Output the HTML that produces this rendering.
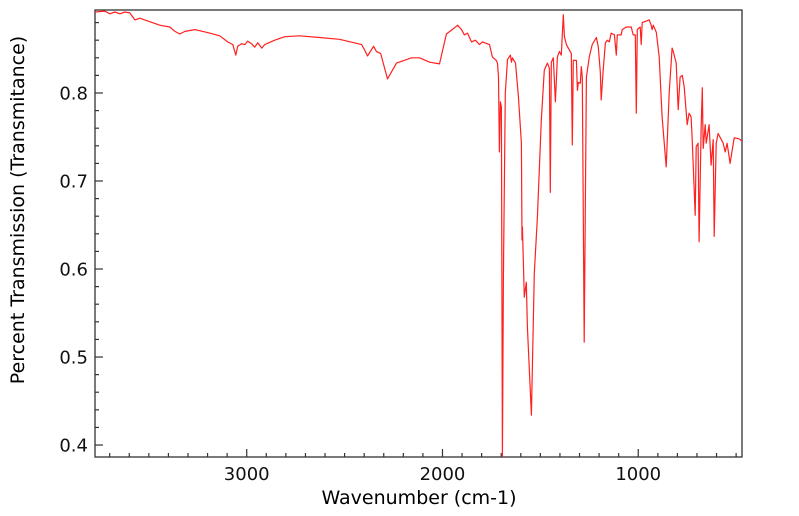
<!DOCTYPE html>
<html><head><meta charset="utf-8"><style>
html,body{margin:0;padding:0;background:#fff;width:799px;height:516px;overflow:hidden}
text{font-family:"DejaVu Sans","Liberation Sans",sans-serif}
</style></head><body>
<svg id="chart" width="799" height="516" xmlns="http://www.w3.org/2000/svg">
<g id="axes"></g>
<g id="plot"></g>
<text x="419" y="504" font-size="19" text-anchor="middle">Wavenumber (cm-1)</text>
<text transform="translate(24,210) rotate(-90)" font-size="19" text-anchor="middle">Percent Transmission (Transmitance)</text>
</svg>
<script>
const wavenumbers=[3775,3725,3699,3673,3648,3622,3597,3571,3546,3495,3444,3393,3367,3342,3316,3265,3189,3138,3097,3071,3056,3046,3026,3010,2995,2975,2959,2944,2923,2908,2857,2806,2730,2628,2526,2413,2398,2383,2352,2337,2316,2281,2235,2158,2117,2066,2015,1980,1939,1923,1903,1888,1872,1852,1832,1811,1796,1760,1745,1725,1719,1714,1709,1704,1699,1694,1689,1679,1668,1653,1648,1643,1627,1612,1597,1594,1592,1582,1572,1566,1546,1531,1515,1495,1480,1464,1454,1449,1444,1434,1423,1413,1403,1393,1383,1377,1367,1352,1342,1337,1332,1316,1311,1306,1296,1291,1286,1276,1265,1250,1235,1214,1204,1194,1189,1179,1168,1158,1148,1138,1122,1112,1107,1087,1082,1061,1036,1026,1015,1010,1005,990,985,980,944,934,929,923,908,893,878,857,842,827,821,806,796,786,775,765,750,740,730,725,709,704,694,689,679,673,668,658,653,638,628,617,612,602,592,566,556,546,531,510,485,469];
const transmittance=[.892,.893,.890,.892,.890,.892,.891,.883,.885,.881,.877,.875,.870,.867,.870,.872,.868,.865,.858,.855,.843,.853,.856,.855,.859,.856,.852,.857,.851,.855,.860,.864,.865,.863,.861,.855,.849,.842,.853,.847,.845,.816,.834,.840,.840,.835,.833,.867,.874,.877,.872,.866,.868,.858,.860,.855,.858,.855,.841,.837,.834,.818,.733,.790,.784,.385,.591,.800,.838,.843,.835,.840,.834,.796,.743,.633,.648,.568,.585,.534,.434,.595,.659,.769,.826,.834,.828,.687,.835,.840,.790,.841,.847,.843,.889,.864,.855,.849,.845,.741,.837,.837,.803,.812,.811,.830,.818,.517,.818,.841,.855,.863,.852,.824,.792,.826,.857,.860,.858,.868,.866,.843,.866,.866,.872,.875,.875,.866,.866,.777,.872,.875,.855,.880,.883,.877,.872,.877,.869,.841,.773,.716,.800,.851,.847,.834,.781,.818,.820,.807,.764,.777,.773,.750,.661,.739,.743,.631,.758,.806,.737,.764,.743,.764,.718,.747,.637,.743,.754,.743,.733,.743,.720,.749,.748,.745];
const xTickLabels=[3000,2000,1000];
const yTickLabels=[0.4,0.5,0.6,0.7,0.8];
const X0=95,X1=742,Y0=10,Y1=457;
const WMAX=3775,WMIN=470,TMAX=0.8943,TMIN=0.3864;
function xs(w){return X0+(WMAX-w)/(WMAX-WMIN)*(X1-X0);}
function ys(t){return Y1-(t-TMIN)/(TMAX-TMIN)*(Y1-Y0);}
const NS="http://www.w3.org/2000/svg";
const axes=document.getElementById('axes'),plot=document.getElementById('plot');
function mk(tag,attrs,parent){const e=document.createElementNS(NS,tag);for(const k in attrs)e.setAttribute(k,attrs[k]);parent.appendChild(e);return e;}
const frame=mk('rect',{x:X0,y:Y0,width:X1-X0,height:Y1-Y0,fill:'none',stroke:'#333','stroke-width':1.3},axes);


for(let w=3700;w>=500;w-=100){const x=xs(w);const major=w%1000===0;
 const t=mk('line',{x1:x,x2:x,y1:Y1,y2:Y1-(major?8:4),stroke:'#333','stroke-width':1.2},axes);
 
 }
for(let i=0;i<=25;i++){const v=0.4+i*0.02;if(v>TMAX)break;const y=ys(v);const major=i%5===0;
 const t=mk('line',{x1:X0,x2:X0+(major?8:4),y1:y,y2:y,stroke:'#333','stroke-width':1.2},axes);
 
 }
xTickLabels.forEach(v=>{const t=mk('text',{x:xs(v),y:480,'font-size':18,'text-anchor':'middle',fill:'#111'},axes);t.textContent=String(v);
 
 });
yTickLabels.forEach(v=>{const t=mk('text',{x:88,y:ys(v)+6.5,'font-size':18,'text-anchor':'end',fill:'#111'},axes);t.textContent=v.toFixed(1);
 
 });
const cp=mk('clipPath',{id:'clip'},plot);mk('rect',{x:X0,y:Y0,width:X1-X0,height:Y1-Y0},cp);
let d='';wavenumbers.forEach((w,i)=>{d+=(i?'L':'M')+xs(w).toFixed(1)+' '+ys(transmittance[i]).toFixed(1);});
const line=mk('path',{d:d,fill:'none',stroke:'#ff2020','stroke-width':1.2,'stroke-linejoin':'round','clip-path':'url(#clip)'},plot);


</script>
</body></html>
